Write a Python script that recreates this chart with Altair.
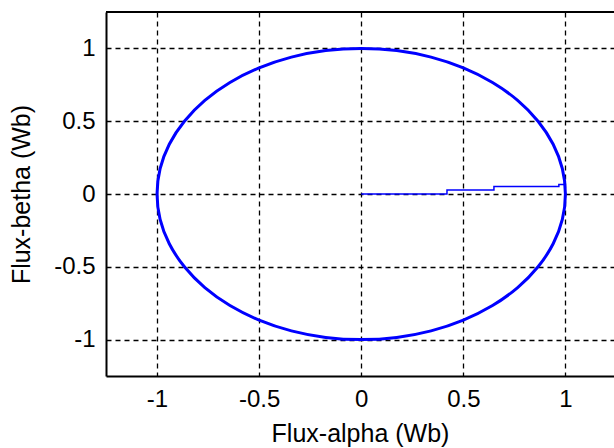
import altair as alt
import pandas as pd

# Flux trajectory: start-up path from the origin
trace_alpha = [0.0, 0.42, 0.42, 0.65, 0.65, 0.968, 0.968, 0.998]
trace_beta = [0.0, 0.0, 0.028, 0.028, 0.052, 0.052, 0.066, 0.066]

# Steady-state flux locus (points read around the circle, 10 degree steps)
circle_alpha = [1.0, 0.985, 0.940, 0.866, 0.766, 0.643, 0.500, 0.342, 0.174, 0.0,
                -0.174, -0.342, -0.500, -0.643, -0.766, -0.866, -0.940, -0.985, -1.0,
                -0.985, -0.940, -0.866, -0.766, -0.643, -0.500, -0.342, -0.174, 0.0,
                0.174, 0.342, 0.500, 0.643, 0.766, 0.866, 0.940, 0.985]
circle_beta = [0.0, 0.174, 0.342, 0.500, 0.643, 0.766, 0.866, 0.940, 0.985, 1.0,
               0.985, 0.940, 0.866, 0.766, 0.643, 0.500, 0.342, 0.174, 0.0,
               -0.174, -0.342, -0.500, -0.643, -0.766, -0.866, -0.940, -0.985, -1.0,
               -0.985, -0.940, -0.866, -0.766, -0.643, -0.500, -0.342, -0.174]

tick_values = [-1, -0.5, 0, 0.5, 1]

trace_df = pd.DataFrame({"a": trace_alpha, "b": trace_beta, "i": range(len(trace_alpha))})
circle_df = pd.DataFrame({"a": circle_alpha, "b": circle_beta, "i": range(len(circle_alpha))})

FONT = "Arial, Liberation Sans, sans-serif"

x_enc = alt.X(
    "a:Q",
    scale=alt.Scale(domain=[-1.25, 1.238], nice=False, zero=False),
    axis=alt.Axis(
        title="Flux-alpha (Wb)",
        values=tick_values,
        labelExpr="toString(datum.value)",
        titlePadding=10,
        labelPadding=11,
    ),
)
y_enc = alt.Y(
    "b:Q",
    scale=alt.Scale(domain=[-1.25, 1.25], nice=False, zero=False),
    axis=alt.Axis(
        title="Flux-betha (Wb)",
        values=tick_values,
        labelExpr="toString(datum.value)",
        titlePadding=19,
        labelPadding=11,
    ),
)

circle = alt.Chart(circle_df).mark_line(
    color="#0000ff", strokeWidth=3, interpolate="cardinal-closed"
).encode(x=x_enc, y=y_enc, order="i:Q")

trace = alt.Chart(trace_df).mark_line(
    color="#0000ff", strokeWidth=1.5
).encode(x=x_enc, y=y_enc, order="i:Q")

top_border = alt.Chart().mark_rule(color="black", strokeWidth=2).encode(
    y=alt.datum(1.25)
)

chart = (
    alt.layer(circle, trace, top_border)
    .properties(
        width=508,
        height=364,
        background="white",
        autosize=alt.AutoSizeParams(type="none"),
        padding={"left": 106, "top": 12, "right": 0, "bottom": 72},
    )
    .configure_view(stroke=None)
    .configure_axis(
        grid=True,
        gridColor="black",
        gridDash=[5, 4],
        gridWidth=1.3,
        gridOpacity=1,
        domainColor="black",
        domainWidth=2,
        ticks=False,
        labelFont=FONT,
        labelFontSize=24,
        labelColor="black",
        titleFont=FONT,
        titleFontSize=25,
        titleFontWeight="normal",
        titleColor="black",
    )
)

chart.save("out.html", embed_options={"renderer": "svg", "actions": False})
